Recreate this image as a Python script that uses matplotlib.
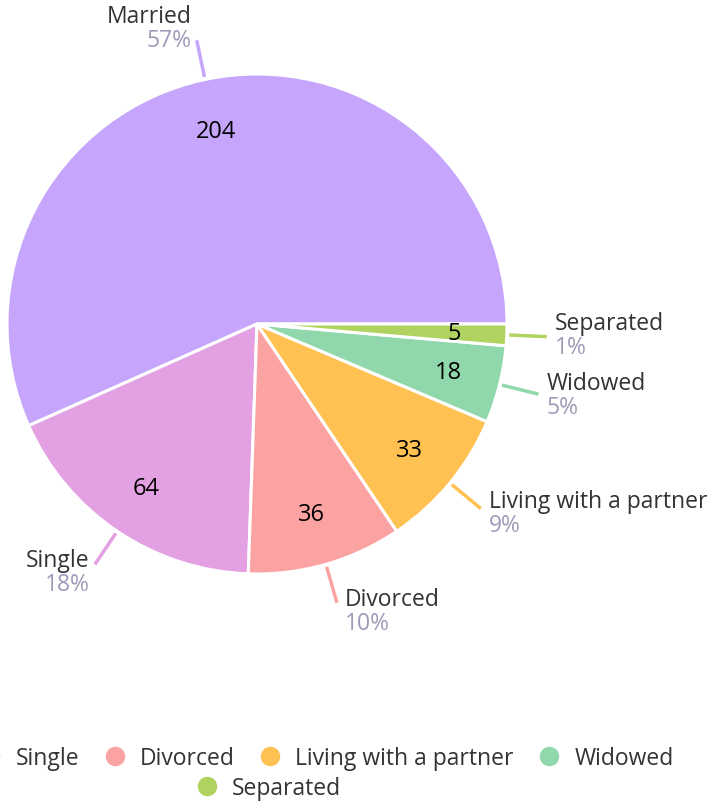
import numpy as np
import matplotlib.pyplot as plt
from matplotlib.lines import Line2D

plt.rcParams['font.family'] = ['Open Sans', 'DejaVu Sans']

categories = ["Married", "Single", "Divorced", "Living with a partner", "Widowed", "Separated"]
counts = [204, 64, 36, 33, 18, 5]
colors = ["#c5a6fc", "#e3a1e4", "#fba3a3", "#ffc152", "#90d8ab", "#b0d35f"]

NAME_COLOR = "#333333"
PCT_COLOR = "#9b9bb8"
FS = 16.5

W, H = 720, 804
R_PX = 250.0
CX, CY = 257, 325

fig = plt.figure(figsize=(W / 100, H / 100), dpi=100)
ax = fig.add_axes([0, 0, 1, 1])

total = sum(counts)
wedges, _, autotexts = ax.pie(
    counts,
    colors=colors,
    startangle=0,
    counterclock=True,
    radius=1.0,
    autopct=lambda p: f"{round(p * total / 100)}",
    pctdistance=0.79,
    wedgeprops=dict(edgecolor="white", linewidth=2.2),
    textprops=dict(fontsize=17, color="black"),
    normalize=True,
)
ax.set_xlim(-CX / R_PX, (W - CX) / R_PX)
ax.set_ylim(-(H - CY) / R_PX, CY / R_PX)
ax.axis("off")

# leader lines + outside labels
px = 1 / R_PX
for w, name, n, col in zip(wedges, categories, counts, colors):
    ang = np.deg2rad((w.theta1 + w.theta2) / 2)
    c, s = np.cos(ang), np.sin(ang)
    ax.plot([1.01 * c, 1.16 * c], [1.01 * s, 1.16 * s], color=col, lw=2.5,
            solid_capstyle="butt")
    ex, ey = 1.16 * c, 1.16 * s
    ey = ey - (2 - 11 * s) * px
    if c >= 0:
        tx, ha = ex + 8 * px, "left"
    else:
        tx, ha = ex - 5 * px, "right"
    pct = round(n / total * 100)
    ax.text(tx, ey - 8 * px, f"{pct}%", ha=ha, va="center", fontsize=FS, color=PCT_COLOR)
    ax.text(tx, ey + 16 * px, name, ha=ha, va="center", fontsize=FS, color=NAME_COLOR)

# legend (flow layout: two rows)
handles = [Line2D([], [], marker="o", ls="", markersize=13, markerfacecolor=c,
                  markeredgecolor=c) for c in colors]
leg_kw = dict(frameon=False, fontsize=FS, handlelength=1.0, handletextpad=0.6,
              columnspacing=1.05, labelcolor=NAME_COLOR, borderaxespad=0,
              loc="center left")
fig.legend(handles[:5], categories[:5], ncol=5,
           bbox_to_anchor=(-176 / W, 1 - 759 / H), **leg_kw)
fig.legend(handles[5:], categories[5:], ncol=1,
           bbox_to_anchor=(186 / W, 1 - 789 / H), **leg_kw)

fig.savefig("out.png", dpi=100)
